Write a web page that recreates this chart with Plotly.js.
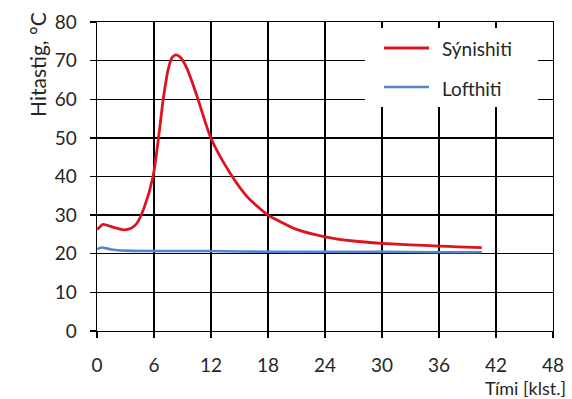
<!DOCTYPE html>
<html><head><meta charset="utf-8">
<script src="https://cdn.plot.ly/plotly-3.0.1.min.js"></script>
<style>body{margin:0;background:#fff}#c{width:572px;height:399px}</style>
</head><body><div id="c"></div>
<script>
const redX = [0, 0.15, 0.65, 1.5, 2.8, 3.6, 4.2, 5.0, 5.9, 6.45, 7.0, 7.5, 7.9, 8.3, 8.8, 9.5, 10.5, 12.0, 14.0, 15.8, 18.0, 19.3, 21, 24, 27, 30, 33, 36, 38, 40.5];
const redY = [26.2, 26.6, 27.6, 27.0, 26.2, 26.6, 27.9, 32.2, 40.0, 49.5, 60.5, 67.8, 70.8, 71.5, 70.8, 67.8, 61.0, 49.9, 40.9, 34.8, 30.0, 28.3, 26.3, 24.4, 23.3, 22.7, 22.3, 22.0, 21.8, 21.6];
const blueX = [0, 0.5, 1.5, 3, 6, 12, 18, 24, 30, 36, 40.5];
const blueY = [21.2, 21.6, 21.1, 20.8, 20.7, 20.7, 20.5, 20.5, 20.5, 20.4, 20.4];
const seriesNames = ["Sýnishiti", "Lofthiti"];
const xTicks = [0, 6, 12, 18, 24, 30, 36, 42, 48];
const yTicks = [0, 10, 20, 30, 40, 50, 60, 70, 80];
const yTitle = "Hitastig, °C";
const xTitle = "Tími [klst.]";

const W = 572, H = 399, L = 97, R = 19, T = 22, B = 68;
const pw = W - L - R, ph = H - T - B;
const px = v => (v - L) / pw;
const py = v => (H - B - v) / ph;
const FONT = "Lato, 'Open Sans', sans-serif";
const RED = "#dc1420", BLUE = "#5585cc";
const TXT = "#262626";

const traces = [
  {x: redX, y: redY, mode: "lines", line: {color: RED, width: 2.8, shape: "spline", smoothing: 0.7}, showlegend: false, name: seriesNames[0]},
  {x: blueX, y: blueY, mode: "lines", line: {color: BLUE, width: 2.6, shape: "spline", smoothing: 0.7}, showlegend: false, name: seriesNames[1]}
];

const axisCommon = {showgrid: true, gridcolor: "#000", gridwidth: 1.3, zeroline: false, showline: true, linecolor: "#000",
  linewidth: 1.3, mirror: true, ticks: "outside", ticklen: 6, tickcolor: "#000", tickwidth: 1.3,
  tickfont: {size: 19, color: TXT}, fixedrange: true};

const layout = {
  width: W, height: H,
  margin: {l: L, r: R, t: T, b: B, pad: 0},
  paper_bgcolor: "#fff", plot_bgcolor: "#fff",
  font: {family: FONT, size: 19, color: TXT},
  xaxis: Object.assign({}, axisCommon, {range: [0, 48], tickvals: xTicks, ticktext: xTicks.map(String), ticklabelstandoff: 11}),
  yaxis: Object.assign({}, axisCommon, {range: [0, 80], tickvals: yTicks, ticktext: yTicks.map(String), ticklabelstandoff: 9}),
  shapes: [
    {type: "rect", xref: "paper", yref: "paper", x0: px(365), x1: px(538), y0: py(107), y1: py(28), fillcolor: "#fff", line: {width: 0}, layer: "above"},
    {type: "line", xref: "paper", yref: "paper", x0: px(384), x1: px(429), y0: py(48), y1: py(48), line: {color: RED, width: 2.8}},
    {type: "line", xref: "paper", yref: "paper", x0: px(384), x1: px(429), y0: py(87), y1: py(87), line: {color: BLUE, width: 2.6}}
  ],
  annotations: [
    {xref: "paper", yref: "paper", x: px(440), y: py(48), xanchor: "left", yanchor: "middle", text: seriesNames[0], showarrow: false, font: {size: 19, color: TXT}},
    {xref: "paper", yref: "paper", x: px(440), y: py(88), xanchor: "left", yanchor: "middle", text: seriesNames[1], showarrow: false, font: {size: 19, color: TXT}},
    {xref: "paper", yref: "paper", x: px(37), y: py(65), xanchor: "center", yanchor: "middle", textangle: -90, text: yTitle, showarrow: false, font: {size: 21, color: TXT}},
    {xref: "paper", yref: "paper", x: px(568), y: py(388), xanchor: "right", yanchor: "middle", text: xTitle, showarrow: false, font: {size: 18, color: TXT}}
  ]
};
Plotly.newPlot("c", traces, layout, {staticPlot: true, displayModeBar: false});
</script></body></html>
